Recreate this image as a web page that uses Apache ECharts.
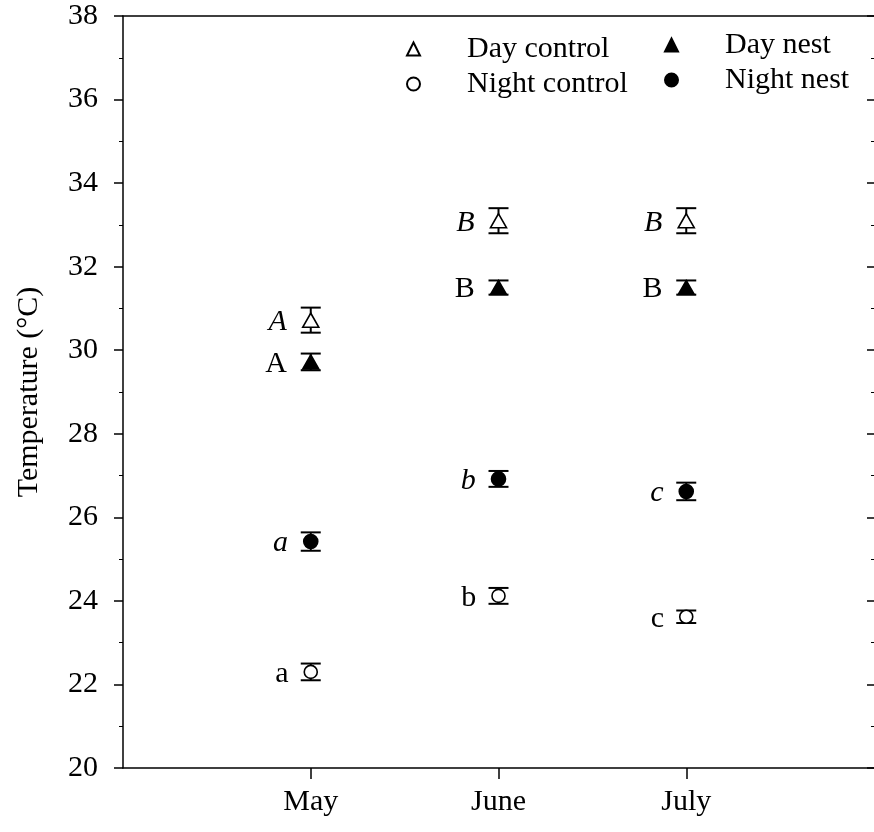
<!DOCTYPE html>
<html>
<head>
<meta charset="utf-8">
<script src="https://cdn.jsdelivr.net/npm/echarts@6/dist/echarts.min.js"></script>
<style>
html,body{margin:0;padding:0;background:#fff;}
#chart{width:874px;height:832px;}
</style>
</head>
<body>
<div id="chart"></div>
<script>
const months = ['May', 'June', 'July'];
const monthPos = [1, 2, 3];
const yTicks = { min: 20, max: 38, interval: 2 };

const dayControl = [30.72, 33.1, 33.1];
const dayControlErr = [0.3, 0.3, 0.3];
const dayControlLetters = ['A', 'B', 'B'];

const dayNest = [29.72, 31.5, 31.5];
const dayNestErr = [0.2, 0.17, 0.17];
const dayNestLetters = ['A', 'B', 'B'];

const nightNest = [25.42, 26.92, 26.62];
const nightNestErr = [0.22, 0.19, 0.21];
const nightNestLetters = ['a', 'b', 'c'];

const nightControl = [22.3, 24.12, 23.62];
const nightControlErr = [0.2, 0.19, 0.15];
const nightControlLetters = ['a', 'b', 'c'];

const FONT = 'Liberation Serif';

const groups = [
  { name: 'Day control', vals: dayControl, errs: dayControlErr, letters: dayControlLetters, symbol: 'triangle', size: [16, 14], filled: false, italic: true },
  { name: 'Day nest', vals: dayNest, errs: dayNestErr, letters: dayNestLetters, symbol: 'triangle', size: [16, 14], filled: true, italic: false },
  { name: 'Night nest', vals: nightNest, errs: nightNestErr, letters: nightNestLetters, symbol: 'circle', size: 14, filled: true, italic: true },
  { name: 'Night control', vals: nightControl, errs: nightControlErr, letters: nightControlLetters, symbol: 'circle', size: 13, filled: false, italic: false }
];

function errRender(params, api) {
  const x = api.value(0), y = api.value(1), e = api.value(2);
  const top = api.coord([x, y + e]);
  const bot = api.coord([x, y - e]);
  const hw = 10;
  const st = { stroke: '#000', lineWidth: 2 };
  return {
    type: 'group',
    children: [
      { type: 'line', shape: { x1: top[0], y1: top[1], x2: bot[0], y2: bot[1] }, style: st },
      { type: 'line', shape: { x1: top[0] - hw, y1: top[1], x2: top[0] + hw, y2: top[1] }, style: st },
      { type: 'line', shape: { x1: bot[0] - hw, y1: bot[1], x2: bot[0] + hw, y2: bot[1] }, style: st }
    ]
  };
}

const series = [];
groups.forEach(g => {
  series.push({
    type: 'custom',
    renderItem: errRender,
    data: monthPos.map((p, i) => [p, g.vals[i], g.errs[i]]),
    z: 1,
    silent: true
  });
});
groups.forEach(g => {
  series.push({
    type: 'scatter',
    name: g.name,
    symbol: g.symbol,
    symbolSize: g.size,
    z: 3,
    itemStyle: {
      color: g.filled ? '#000' : '#fff',
      borderColor: '#000',
      borderWidth: 1.6,
      opacity: 1
    },
    label: {
      show: true,
      position: 'left',
      distance: 15,
      offset: [0, 2],
      formatter: p => g.letters[p.dataIndex],
      fontFamily: FONT,
      fontSize: 30,
      fontStyle: g.italic ? 'italic' : 'normal',
      color: '#000'
    },
    data: monthPos.map((p, i) => [p, g.vals[i]])
  });
});
// invisible series on the right axis so it is laid out and drawn
series.push({
  type: 'scatter', yAxisIndex: 1, symbolSize: 0, silent: true,
  data: [[monthPos[0], yTicks.min]]
});

const legendText = { fontFamily: FONT, fontSize: 30, lineHeight: 30, color: '#000', padding: [0, 0, 0, 42] };

const option = {
  animation: false,
  backgroundColor: '#fff',
  textStyle: { fontFamily: FONT },
  grid: { left: 123, right: 0, top: 16, bottom: 64 },
  legend: [
    { data: ['Day control', 'Night control'], orient: 'vertical', left: 401, top: 29, itemWidth: 13, itemHeight: 13, itemGap: 5, selectedMode: false, textStyle: legendText },
    { data: ['Day nest', 'Night nest'], orient: 'vertical', left: 659, top: 25, itemWidth: 13, itemHeight: 13, itemGap: 5, selectedMode: false, textStyle: legendText }
  ],
  xAxis: [
    {
      type: 'value', min: 0, max: 4, position: 'bottom',
      axisLine: { show: true, lineStyle: { color: '#000', width: 1.5 } },
      axisTick: { show: true, customValues: monthPos, length: 11, lineStyle: { color: '#000', width: 1.5 } },
      axisLabel: { customValues: monthPos, formatter: v => months[monthPos.indexOf(v)], fontFamily: FONT, fontSize: 30, color: '#000', margin: 19 },
      splitLine: { show: false }
    },
    {
      type: 'value', min: 0, max: 4, position: 'top',
      axisLine: { show: true, lineStyle: { color: '#000', width: 1.5 } },
      axisTick: { show: false }, axisLabel: { show: false }, splitLine: { show: false }
    }
  ],
  yAxis: [
    {
      type: 'value', min: yTicks.min, max: yTicks.max, interval: yTicks.interval, position: 'left',
      name: 'Temperature (°C)', nameLocation: 'middle', nameGap: 79,
      nameTextStyle: { fontFamily: FONT, fontSize: 30, color: '#000' },
      axisLine: { show: true, lineStyle: { color: '#000', width: 1.5 } },
      axisTick: { show: true, length: 9, lineStyle: { color: '#000', width: 1.5 } },
      minorTick: { show: true, splitNumber: 2, length: 4, lineStyle: { color: '#000', width: 1 } },
      axisLabel: { fontFamily: FONT, fontSize: 30, color: '#000', margin: 25, padding: [3, 0, 0, 0] },
      splitLine: { show: false }, minorSplitLine: { show: false }
    },
    {
      type: 'value', min: yTicks.min, max: yTicks.max, interval: yTicks.interval, position: 'right',
      axisLine: { show: false, onZero: false },
      axisTick: { show: true, inside: true, length: 7, lineStyle: { color: '#000', width: 1.5 } },
      minorTick: { show: true, splitNumber: 2, length: 3, lineStyle: { color: '#000', width: 1 } },
      axisLabel: { show: false },
      splitLine: { show: false }, minorSplitLine: { show: false }
    }
  ],
  series: series
};

const chart = echarts.init(document.getElementById('chart'), null, { renderer: 'canvas' });
chart.setOption(option);
</script>
</body>
</html>
